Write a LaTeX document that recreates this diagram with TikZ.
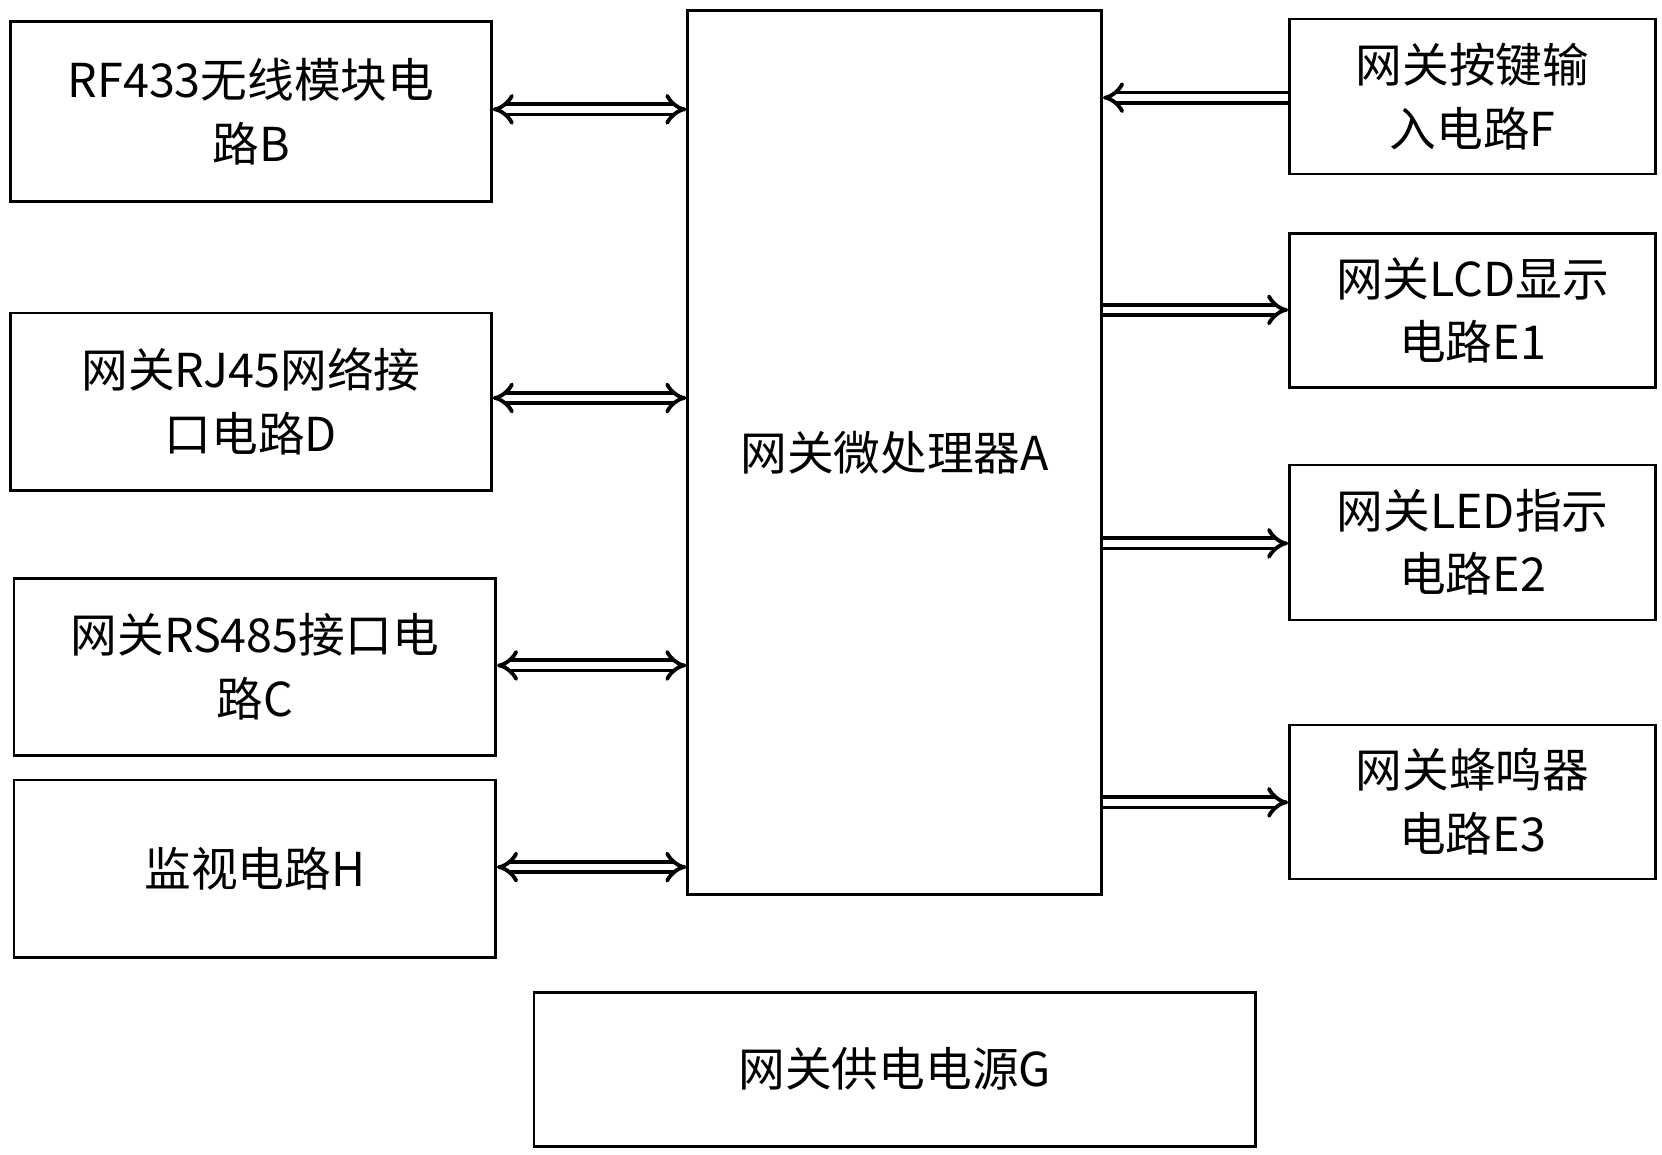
\documentclass[tikz,border=0pt]{standalone}
\usepackage{fontspec}
\setmainfont{Noto Sans CJK SC}
\usetikzlibrary{arrows.meta}
\begin{document}
\begin{tikzpicture}[x=0.5pt,y=-0.5pt,
	blk/.style={draw,line width=1.2pt,inner sep=0pt,align=center,font=\fontsize{22}{30}\selectfont},
	bus/.style={double,line width=1.8pt,double distance=3pt,{Implies}-{Implies}},
	busr/.style={double,line width=1.8pt,double distance=3pt,-{Implies}}]
	\useasboundingbox (0,0) rectangle (1566,1088);
	% boxes left
	\node[blk,minimum width=226.5pt,minimum height=85pt] (B) at (236.5,105) {RF433无线模块电\\路B};
	\node[blk,minimum width=226.5pt,minimum height=83.5pt] (D) at (236.5,378.5) {网关RJ45网络接\\口电路D};
	\node[blk,minimum width=227pt,minimum height=83.5pt] (C) at (240,628.5) {网关RS485接口电\\路C};
	\node[blk,minimum width=227pt,minimum height=83.5pt] (H) at (240,818.5) {监视电路H};
	% centre
	\node[blk,minimum width=195pt,minimum height=416.5pt] (A) at (843,426.5) {网关微处理器A};
	% boxes right
	\node[blk,minimum width=172.5pt,minimum height=73pt] (F) at (1387.5,91) {网关按键输\\入电路F};
	\node[blk,minimum width=172.5pt,minimum height=72.5pt] (E1) at (1387.5,292.5) {网关LCD显示\\电路E1};
	\node[blk,minimum width=172.5pt,minimum height=73pt] (E2) at (1387.5,511) {网关LED指示\\电路E2};
	\node[blk,minimum width=172.5pt,minimum height=72.5pt] (E3) at (1387.5,755.5) {网关蜂鸣器\\电路E3};
	\node[blk,minimum width=340pt,minimum height=72.5pt] (G) at (843,1007.5) {网关供电电源G};
	% buses
	\draw[bus] (B.east |- 0,103) -- (A.west |- 0,103);
	\draw[bus] (D.east |- 0,375) -- (A.west |- 0,375);
	\draw[bus] (C.east |- 0,627) -- (A.west |- 0,627);
	\draw[bus] (H.east |- 0,817) -- (A.west |- 0,817);
	\draw[busr] (F.west |- 0,92) -- (A.east |- 0,92);
	\draw[busr] (A.east |- 0,292) -- (E1.west |- 0,292);
	\draw[busr] (A.east |- 0,512) -- (E2.west |- 0,512);
	\draw[busr] (A.east |- 0,756) -- (E3.west |- 0,756);
\end{tikzpicture}
\end{document}
